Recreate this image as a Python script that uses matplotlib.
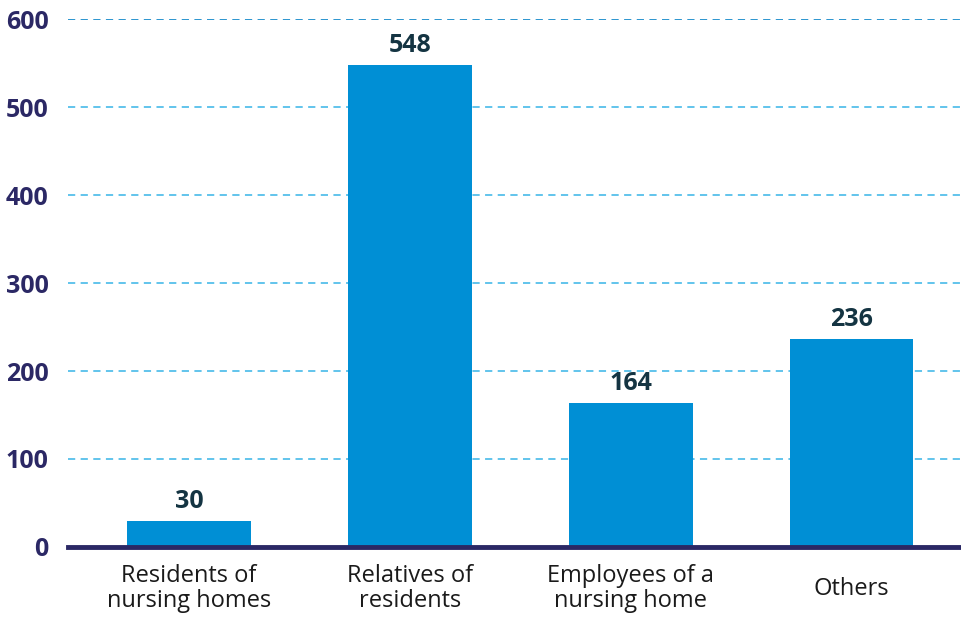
import matplotlib.pyplot as plt
import matplotlib.transforms as mtransforms

plt.rcParams['font.family'] = ['Open Sans', 'DejaVu Sans']

# data
categories = ['Residents of\nnursing homes', 'Relatives of\nresidents',
              'Employees of a\nnursing home', 'Others']
values = [30, 548, 164, 236]
yticks = [0, 100, 200, 300, 400, 500, 600]

BAR = '#008fd5'
NAVY = '#2b2865'
LABEL = '#143442'

fig = plt.figure(figsize=(9.62, 6.17), dpi=100)
ax = fig.add_axes([0.0707, 0.1135, 0.9293, 0.8555])

x = list(range(len(categories)))
ax.bar(x, values, width=0.56, color=BAR, zorder=3)

# value labels on top of bars
for xi, v in zip(x, values):
    ax.annotate(str(v), (xi, v), xytext=(0, 5), textcoords='offset points',
                ha='center', va='bottom', fontsize=18, fontweight='bold',
                color=LABEL, zorder=4)

# dashed grid lines (top one a bit darker)
for t in yticks[1:]:
    c = '#1a8ccc' if t == 600 else '#55bfea'
    ax.axhline(t, color=c, lw=1.3, ls=(0, (4, 3)), zorder=1)
ax.axhline(0, color=NAVY, lw=3.5, zorder=5, clip_on=False)

ax.set_xlim(-0.548, 3.5)
ax.set_ylim(0, 600)
ax.set_yticks(yticks)
ax.set_yticklabels([str(t) for t in yticks], fontsize=18, fontweight='bold', color=NAVY)
ax.set_xticks(x)
ax.set_xticklabels(categories, fontsize=17, color='#1a1a1a', linespacing=1.05)
ax.tick_params(axis='both', length=0)
ax.tick_params(axis='y', pad=14)
ax.tick_params(axis='x', pad=12)
for s in ax.spines.values():
    s.set_visible(False)

# single-line label sits centred against the two-line ones
for lab in ax.get_xticklabels():
    if '\n' not in lab.get_text():
        lab.set_transform(lab.get_transform() +
                          mtransforms.ScaledTranslation(0, -13 / 100, fig.dpi_scale_trans))

fig.savefig('out.png', dpi=100)
